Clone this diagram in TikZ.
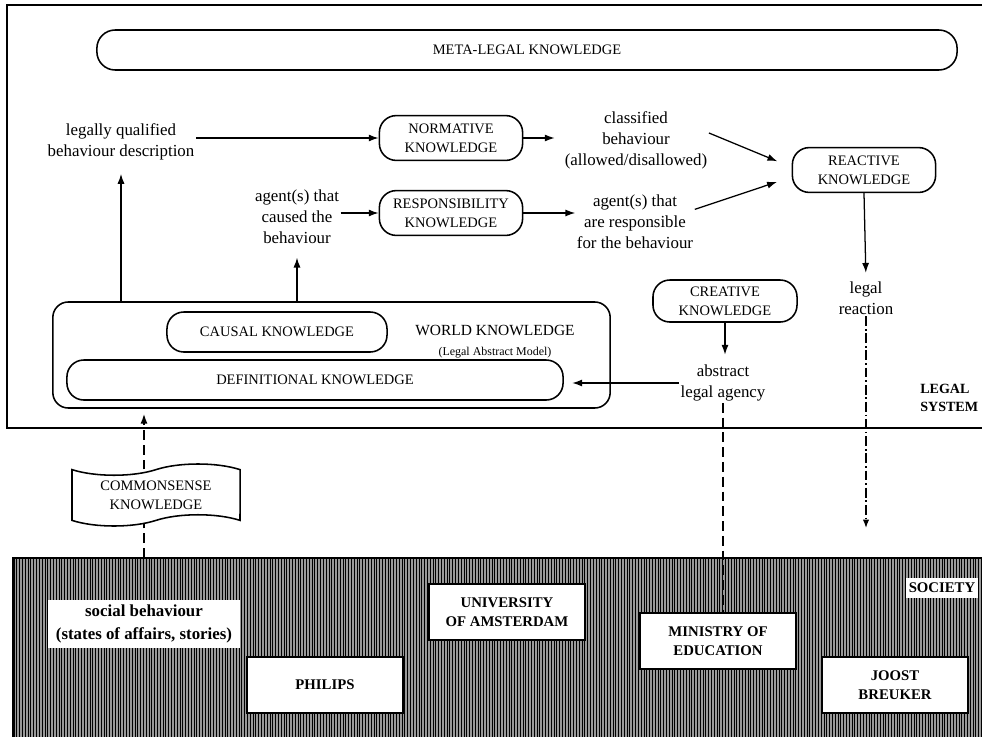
\documentclass[tikz,border=0pt]{standalone}
\usepackage{fontspec}
\setmainfont{Liberation Serif}
\usetikzlibrary{arrows.meta,shapes.symbols,patterns.meta}

\newcommand\kfnt{\fontsize{10.3}{13.5}\selectfont}
\newcommand\txtfnt{\fontsize{12}{15}\selectfont}
\newcommand\orgfnt{\fontsize{10.5}{13.5}\selectfont\bfseries}

\begin{document}
\begin{tikzpicture}[
  x=0.025cm,  y=-0.025cm,  kbox/.style={draw,line width=1.1pt,rounded corners=12pt,fill=white,align=center,font=\kfnt,inner sep=0pt,minimum width=3.58cm,minimum height=1.12cm},  txt/.style={align=center,font=\txtfnt,inner sep=1pt},  orgbox/.style={draw,line width=1.3pt,fill=white,align=center,font=\orgfnt,inner sep=0pt,minimum width=3.9cm,minimum height=1.4cm},  arr/.style={-{Latex[length=7pt,width=5pt]},line width=0.9pt},  dsh/.style={line width=1.2pt,dash pattern=on 7pt off 3.5pt},  dotarr/.style={-{Latex[length=6pt,width=4.5pt]},line width=0.8pt,dash pattern=on 7pt off 2pt on 1.2pt off 2pt}
]
  \useasboundingbox (0,0) rectangle (982,737);
  \coordinate (soctop) at (13,558);
  \fill[black!40] (13,558) rectangle (1000,750);
  \fill[pattern={Lines[angle=90,distance=2pt,line width=0.7pt]},pattern color=black] (13,558) rectangle (1000,750);
  \draw[line width=1pt] (1000,558) -- (13,558) -- (13,750);
  \node[fill=white,inner sep=0pt,minimum width=4.8cm,minimum height=1.2cm,align=center,font=\fontsize{12}{16}\selectfont\bfseries] (socbeh) at (144,624) {social behaviour\\(states of affairs, stories)};
  \node[orgbox] (philips) at (325,685) {PHILIPS};
  \node[orgbox] (uva) at (507,612) {UNIVERSITY\\OF AMSTERDAM};
  \node[orgbox] (minedu) at (718,641) {MINISTRY OF\\EDUCATION};
  \node[orgbox,minimum width=3.65cm] (breuker) at (895,685) {JOOST\\BREUKER};
  \node[fill=white,inner sep=0pt,minimum width=1.78cm,minimum height=0.5cm,font=\orgfnt] (soclbl) at (942,588) {SOCIETY};

  \draw[line width=1pt] (1010,5) -- (7,5) -- (7,428) -- (1010,428);
  \node[kbox,minimum width=21.5cm,minimum height=1cm,rounded corners=13pt] (metak) at (527,50) {META-LEGAL KNOWLEDGE};
  \node[txt] (lqbd) at (121,142) {legally qualified\\behaviour description};
  \node[kbox] (normk) at (451,138) {NORMATIVE\\KNOWLEDGE};
  \node[txt] (clbeh) at (636,140) {classified\\behaviour\\(allowed/disallowed)};
  \node[kbox] (reactk) at (864,170) {REACTIVE\\KNOWLEDGE};
  \node[txt] (agcaus) at (297,217) {agent(s) that\\caused the\\behaviour};
  \node[kbox] (respk) at (451,213) {RESPONSIBILITY\\KNOWLEDGE};
  \node[txt] (agresp) at (635,222) {agent(s) that\\are responsible\\for the behaviour};
  \node[txt] (legreac) at (866,298) {legal\\reaction};
  \node[kbox,minimum width=3.6cm,minimum height=1.05cm] (creatk) at (725,301) {CREATIVE\\KNOWLEDGE};
  \node[txt] (absag) at (723,383) {abstract\\legal agency};
  \node[draw,line width=1.1pt,rounded corners=11pt,minimum width=13.93cm,minimum height=2.65cm] (worldk) at (331.5,355) {};
  \node[kbox,minimum width=5.5cm,minimum height=1cm] (causk) at (277,332) {CAUSAL KNOWLEDGE};
  \node[kbox,minimum width=12.4cm,minimum height=1cm] (defk) at (315,380) {DEFINITIONAL KNOWLEDGE};
  \node[align=center,font=\fontsize{11}{14}\selectfont,inner sep=0pt] (worldlbl) at (495,342) {WORLD KNOWLEDGE\\{\fontsize{8.5}{11}\selectfont (Legal Abstract Model)}};
  \node[anchor=west,align=left,font=\fontsize{10}{13}\selectfont\bfseries,inner sep=0pt] (legsys) at (920,398) {LEGAL\\SYSTEM};

  \draw[arr] (lqbd.east |- normk.west) -- (normk.west);
  \draw[arr,shorten >=6pt] (normk.east) -- (normk.east -| clbeh.west);
  \draw[arr] (agcaus.east |- respk.west) -- (respk.west);
  \draw[arr] (respk.east) -- (respk.east -| agresp.west);
  \draw[arr,shorten >=11pt] ([yshift=5pt]clbeh.east) -- ([yshift=2pt]reactk.west);
  \draw[arr,shorten >=11pt] ([yshift=9pt]agresp.east) -- ([yshift=-5pt]reactk.west);
  \draw[arr,shorten >=5pt] (reactk.south) -- (legreac.north);
  \draw[arr,shorten >=8.5pt] (worldk.north -| lqbd) -- (lqbd.south);
  \draw[arr,shorten >=8.5pt] (worldk.north -| agcaus) -- (agcaus.south);
  \draw[arr,shorten >=6pt] (creatk.south) -- (creatk.south |- absag.north);
  \draw[arr,shorten >=6pt] (absag.west) -- (absag.west -| defk.east);

  \coordinate (reacend) at (866,528);
  \draw[dotarr] (legreac.south) -- (reacend);
  \draw[dsh] (absag.south) -- (absag.south |- minedu.north);
  \draw[dsh,-{Latex[length=7pt,width=5pt]},shorten >=3.5pt] (socbeh.north |- soctop) -- (socbeh.north |- worldk.south);
  \node[tape,draw,line width=1.1pt,fill=white,tape bend height=8pt,align=center,font=\kfnt,minimum width=4.2cm,minimum height=1.55cm,inner sep=0pt] (commk) at (156,495) {COMMONSENSE\\KNOWLEDGE};
\end{tikzpicture}
\end{document}
